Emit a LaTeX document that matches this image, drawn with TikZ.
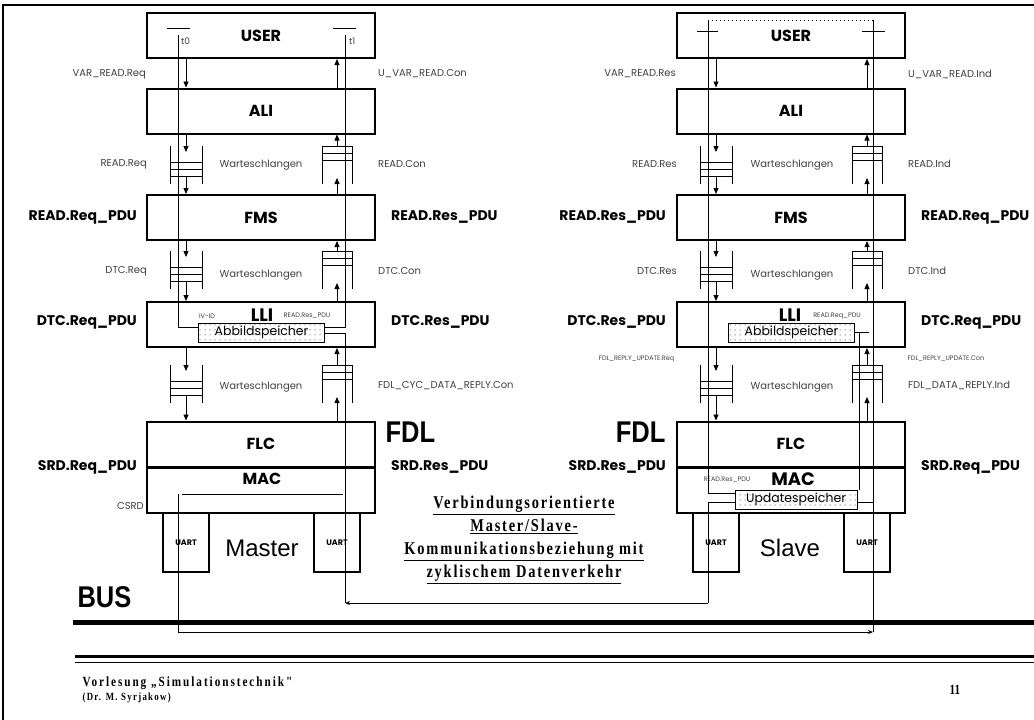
\documentclass[tikz,border=0pt]{standalone}
\usepackage{fontspec}
\usetikzlibrary{arrows.meta,patterns.meta}
\newfontfamily\gothic{Poppins}
\newfontfamily\helv{Liberation Sans}
\newfontfamily\helvn[FakeStretch=0.85]{Liberation Sans}
\newfontfamily\timesn[FakeStretch=0.8]{Liberation Serif}
\newcommand{\fs}[1]{\fontsize{#1}{#1}\selectfont}

\tikzset{
  layer/.style={draw, line width=2pt, minimum width=228pt, minimum height=45pt,
    inner sep=0pt, font=\gothic\bfseries\fs{16}},
  lbl/.style={font=\gothic\fs{10}, text=black!75, inner sep=1pt},
  pdu/.style={font=\gothic\bfseries\fs{14}, inner sep=1pt},
  tiny/.style={font=\gothic\fs{6.5}, text=black!75, inner sep=0.5pt},
  wire/.style={line width=0.8pt},
  sig/.style={line width=0.8pt, -{Triangle[length=6pt,width=5pt]}},
  store/.style={draw, line width=1pt, minimum width=126pt, minimum height=19pt,
    inner sep=0pt, pattern={Dots[distance=5pt,radius=0.5pt]}, font=\gothic\fs{12.5}},
  uart/.style={draw, line width=1.5pt, minimum width=46pt, minimum height=59pt,
    inner sep=0pt, font=\gothic\bfseries\fs{8}},
  downq/.pic={\draw[line width=0.8pt] (-16,0) -- (-16,37.5) (16,0) -- (16,37.5)
    \foreach \h in {16,23,30}{(-16,\h) -- (16,\h)};},
  upq/.pic={\draw[line width=0.8pt] (-15,0) -- (-15,37.5) (15,0) -- (15,37.5)
    \foreach \h in {0,7,14}{(-15,\h) -- (15,\h)};}
}

\begin{document}
\begin{tikzpicture}[x=1pt,y=-1pt]
  \useasboundingbox (0,0) rectangle (1034,720);
  % frame
  \draw[line width=2pt] (3,720) -- (3,5) -- (1034,5);

  % both stacks, slave shifted right
  \foreach \st/\dx in {M/0,S/530}{
    \begin{scope}[xshift=\dx]
      \node[layer] (user\st) at (261,35.5) {USER};
      \node[layer] (ali\st) at (261,111) {ALI};
      \node[layer] (fms\st) at (261,217.5) {FMS};
      \node[layer] (lli\st) at (261,324.5) {};
      \node[layer] (flc\st) at (261,444) {FLC};
      \node[layer] (mac\st) at (261,490) {};
      \node[store] (abb\st) at (261.5,332.5) {Abbildspeicher};
      \node[uart] (uartL\st) at (186,542.5) {UART};
      \node[uart] (uartR\st) at (337,542.5) {UART};
      \coordinate (dn\st) at (186,0);
      \coordinate (up\st) at (337,0);
      % Warteschlangen
      \foreach \q in {146,251,365}{
        \pic at (186,\q) {downq};
        \pic at (337,\q) {upq};
      }
      \draw[sig] (user\st.south -| dn\st) -- (ali\st.north -| dn\st);
      \draw[sig] (ali\st.north -| up\st) -- (user\st.south -| up\st);
      \foreach \hi/\lo/\q in {ali/fms/146,fms/lli/251,lli/flc/365}{
        \draw[sig] (\hi\st.south -| dn\st) -- (186,\q+6);
        \draw[sig] (186,\q+30) -- (\lo\st.north -| dn\st);
        \draw[sig] (337,\q) -- (\hi\st.south -| up\st);
        \draw[sig] (\lo\st.north -| up\st) -- (337,\q+32);
      }
    \end{scope}
  }
  \node[store, minimum width=122pt] (updS) at (796,499.5) {Updatespeicher};

  % texts in the boxes
  \node[font=\gothic\bfseries\fs{18}] (lliTM) at (262,315) {LLI};
  \node[font=\gothic\bfseries\fs{18}] (lliTS) at (790,315) {LLI};
  \node[font=\gothic\bfseries\fs{16}] (macTM) at (262,479) {MAC};
  \node[font=\gothic\bfseries\fs{18}] (macTS) at (793,479) {MAC};
  \node[tiny] (ivid) at (207,316) {IV-ID};
  \node[tiny] (respM) at (307,316) {READ.Res\_PDU};
  \node[tiny] (reqpS) at (837,316) {READ.Req\_PDU};
  \node[tiny] (respS) at (727,480) {READ.Res\_PDU};
  \node[font=\helv\fs{24}] (master) at (262,548) {Master};
  \node[font=\helv\fs{24}] (slave) at (790,548) {Slave};

  % Master labels
  \node[lbl, anchor=east] at (147,74) {VAR\_READ.Req};
  \node[lbl, anchor=west] at (377,74) {U\_VAR\_READ.Con};
  \node[lbl, anchor=east] at (148,164) {READ.Req};
  \node[lbl, anchor=west] at (377,164) {READ.Con};
  \node[pdu, anchor=east] at (138,217) {READ.Req\_PDU};
  \node[pdu, anchor=west] at (390,217) {READ.Res\_PDU};
  \node[lbl, anchor=east] at (148,271) {DTC.Req};
  \node[lbl, anchor=west] at (377,271) {DTC.Con};
  \node[pdu, anchor=east] at (138,322) {DTC.Req\_PDU};
  \node[pdu, anchor=west] at (390,322) {DTC.Res\_PDU};
  \node[lbl, anchor=west] at (377,386) {FDL\_CYC\_DATA\_REPLY.Con};
  \node[pdu, anchor=east] at (138,467) {SRD.Req\_PDU};
  \node[pdu, anchor=west] at (390,467) {SRD.Res\_PDU};
  \node[lbl, anchor=east] at (145,506) {CSRD};
  \node[font=\helvn\bfseries\fs{30}, anchor=west] (fdlM) at (382,432) {FDL};
  \foreach \y in {165,275,387}{
    \node[lbl] at (261,\y) {Warteschlangen};
    \node[lbl] at (792,\y) {Warteschlangen};
  }

  % Slave labels
  \node[lbl, anchor=east] at (677,74) {VAR\_READ.Res};
  \node[lbl, anchor=west] at (907,74) {U\_VAR\_READ.Ind};
  \node[lbl, anchor=east] at (678,164) {READ.Res};
  \node[lbl, anchor=west] at (907,164) {READ.Ind};
  \node[pdu, anchor=east] at (667,217) {READ.Res\_PDU};
  \node[pdu, anchor=west] at (920,217) {READ.Req\_PDU};
  \node[lbl, anchor=east] at (678,271) {DTC.Res};
  \node[lbl, anchor=west] at (907,271) {DTC.Ind};
  \node[pdu, anchor=east] at (667,322) {DTC.Res\_PDU};
  \node[pdu, anchor=west] at (920,322) {DTC.Req\_PDU};
  \node[tiny, anchor=east] at (675,359) {FDL\_REPLY\_UPDATE.Req};
  \node[tiny, anchor=west] at (907,359) {FDL\_REPLY\_UPDATE.Con};
  \node[lbl, anchor=west] at (907,385) {FDL\_DATA\_REPLY.Ind};
  \node[pdu, anchor=east] at (667,467) {SRD.Res\_PDU};
  \node[pdu, anchor=west] at (920,467) {SRD.Req\_PDU};
  \node[font=\helvn\bfseries\fs{30}, anchor=east] (fdlS) at (669,432) {FDL};

  % t0 / t1 in the master
  \coordinate (t0) at (178,35);
  \coordinate (t1) at (345,35);
  \draw[wire] (167,28) -- (190,28) (333,28) -- (356,28);
  \draw[wire] (t0) |- ([yshift=5.5pt]abbM.west);
  \draw[wire] (t1) |- ([yshift=5.5pt]abbM.east);
  \node[lbl, font=\gothic\fs{9}, anchor=west] (t0l) at (180,41) {t0};
  \node[lbl, font=\gothic\fs{9}, anchor=west] (t1l) at (348,41) {t1};

  % slave user lines
  \draw[wire, dash pattern=on 1pt off 3pt] (708,20) -- (873,20);
  \draw[wire] (697,31) -- (718,31) (862,31) -- (885,31);

  % bus connections
  \coordinate (busA) at (345,603);
  \coordinate (busB) at (178,632);
  \coordinate (busC) at (873,632);
  \coordinate (busD) at (708,603);
  \coordinate (kS) at (859,332.5);
  \draw[wire] ([yshift=-0.5pt]abbM.east) -| (busA);
  \draw[wire] (182,494) -- (343,494);
  \draw[wire] (178,494) -- (busB);
  \draw[wire, -{Stealth[length=5pt,width=4pt]}] (busB) -- (busC);
  \draw[wire] (708,20) |- ([yshift=6.5pt]updS.west);
  \draw[wire] (873,20) -- (busC);
  \draw[wire] (abbS.east) -- ++(14,0);
  \draw[wire] (kS) -- (kS |- updS.north);
  \draw[wire] ([yshift=-2.5pt]updS.west) -| (busD);
  \draw[wire, -{Stealth[length=5pt,width=4pt]}] (busD) -- (busA);
  \draw[wire] ([yshift=-2.5pt]updS.east) -- ++(16,0);

  % BUS
  \draw[line width=5pt] (73,622) -- (1034,622);
  \node[font=\helvn\bfseries\fs{30}, anchor=west] (bus) at (74,597) {BUS};

  % title
  \node[font=\timesn\bfseries\fontsize{18}{23}\selectfont\addfontfeature{LetterSpace=10},
    align=center] (title) at (524,540)
    {\underline{Verbindungsorientierte}\\ \underline{Master/Slave-}\\
     \underline{Kommunikationsbeziehung mit}\\ \underline{zyklischem Datenverkehr}};

  % footer
  \draw[line width=3pt] (75,656) -- (1034,656);
  \draw[line width=1pt] (75,662) -- (1034,662);
  \node[font=\timesn\bfseries\fs{14}\addfontfeature{LetterSpace=14}, anchor=west] (lect) at (79,683)
    {Vorlesung „Simulationstechnik"};
  \node[font=\timesn\bfseries\fs{11}\addfontfeature{LetterSpace=12}, anchor=west] (auth) at (79,698)
    {(Dr. M. Syrjakow)};
  \node[font=\timesn\bfseries\fs{14}] (page) at (955,690) {11};
\end{tikzpicture}
\end{document}
